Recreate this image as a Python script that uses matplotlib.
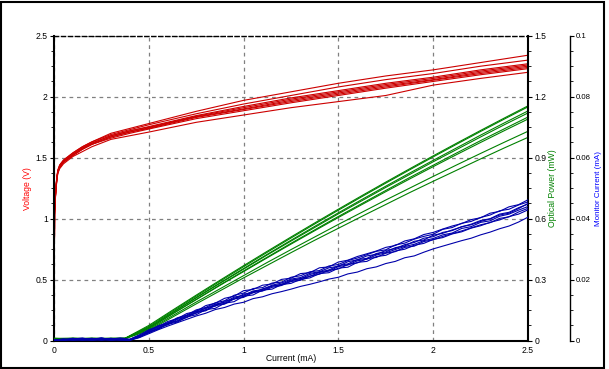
import matplotlib
matplotlib.use('Agg')
import matplotlib.pyplot as plt
from matplotlib.patches import Rectangle
from matplotlib.ticker import MultipleLocator, FuncFormatter

plt.rcParams['font.family'] = ['Liberation Sans', 'DejaVu Sans']
plt.rcParams['font.size'] = 6.2

# ---- voltage (V) vs current (mA) ----
x_volt = [0, 0.003, 0.006, 0.01, 0.015, 0.02, 0.03, 0.05, 0.075, 0.1, 0.15, 0.2,
          0.3, 0.4, 0.5, 0.75, 1.0, 1.25, 1.5, 1.75, 2.0, 2.25, 2.5]
volt_curves = [
    [0, 1.05, 1.16, 1.26, 1.34, 1.40, 1.44, 1.48, 1.51, 1.54, 1.59, 1.63, 1.70, 1.74, 1.78, 1.88, 1.97, 2.04, 2.11, 2.17, 2.22, 2.28, 2.34],
    [0, 1.05, 1.15, 1.25, 1.34, 1.39, 1.44, 1.48, 1.51, 1.54, 1.59, 1.63, 1.69, 1.73, 1.77, 1.86, 1.94, 2.01, 2.08, 2.14, 2.19, 2.25, 2.30],
    [0, 1.04, 1.15, 1.25, 1.33, 1.39, 1.43, 1.47, 1.50, 1.53, 1.58, 1.62, 1.68, 1.72, 1.755, 1.845, 1.92, 1.99, 2.05, 2.11, 2.16, 2.22, 2.27],
    [0, 1.06, 1.14, 1.24, 1.33, 1.38, 1.43, 1.47, 1.50, 1.53, 1.58, 1.62, 1.68, 1.72, 1.75, 1.84, 1.91, 1.98, 2.04, 2.10, 2.15, 2.21, 2.26],
    [0, 1.03, 1.14, 1.24, 1.32, 1.38, 1.42, 1.46, 1.50, 1.52, 1.57, 1.61, 1.67, 1.71, 1.745, 1.835, 1.90, 1.97, 2.03, 2.09, 2.14, 2.20, 2.25],
    [0, 1.05, 1.15, 1.25, 1.33, 1.39, 1.43, 1.47, 1.49, 1.52, 1.57, 1.61, 1.67, 1.71, 1.74, 1.83, 1.895, 1.96, 2.02, 2.08, 2.135, 2.19, 2.24],
    [0, 1.04, 1.14, 1.24, 1.32, 1.38, 1.42, 1.46, 1.49, 1.52, 1.57, 1.61, 1.66, 1.70, 1.735, 1.82, 1.885, 1.95, 2.01, 2.07, 2.125, 2.18, 2.23],
    [0, 1.03, 1.13, 1.23, 1.31, 1.37, 1.41, 1.45, 1.48, 1.51, 1.55, 1.59, 1.65, 1.68, 1.71, 1.79, 1.85, 1.91, 1.96, 2.01, 2.095, 2.15, 2.20],
]

# ---- optical power (mW) vs current (mA) ----
x_power = [0, 0.1, 0.2, 0.3, 0.375, 0.5, 0.625, 0.75, 0.875, 1.0, 1.125, 1.25, 1.375,
           1.5, 1.625, 1.75, 1.875, 2.0, 2.125, 2.25, 2.375, 2.5]
power_curves = [
    [0.010, 0.012, 0.009, 0.011, 0.012, 0.075, 0.150, 0.224, 0.297, 0.369, 0.440, 0.510, 0.579, 0.647, 0.714, 0.780, 0.845, 0.909, 0.972, 1.034, 1.095, 1.155],
    [0.011, 0.009, 0.012, 0.010, 0.011, 0.070, 0.145, 0.219, 0.292, 0.364, 0.435, 0.505, 0.574, 0.642, 0.709, 0.775, 0.840, 0.904, 0.967, 1.029, 1.090, 1.150],
    [0.009, 0.011, 0.010, 0.012, 0.012, 0.065, 0.139, 0.212, 0.284, 0.355, 0.425, 0.494, 0.562, 0.629, 0.695, 0.760, 0.824, 0.887, 0.949, 1.011, 1.071, 1.130],
    [0.010, 0.010, 0.011, 0.009, 0.011, 0.065, 0.138, 0.211, 0.282, 0.352, 0.422, 0.490, 0.557, 0.624, 0.689, 0.754, 0.817, 0.880, 0.941, 1.002, 1.062, 1.120],
    [0.012, 0.010, 0.009, 0.011, 0.010, 0.060, 0.132, 0.203, 0.274, 0.343, 0.411, 0.479, 0.545, 0.611, 0.675, 0.739, 0.802, 0.863, 0.924, 0.984, 1.042, 1.100],
    [0.010, 0.012, 0.010, 0.010, 0.012, 0.060, 0.132, 0.202, 0.272, 0.340, 0.408, 0.475, 0.541, 0.606, 0.670, 0.733, 0.795, 0.856, 0.916, 0.975, 1.033, 1.090],
    [0.011, 0.010, 0.012, 0.011, 0.011, 0.055, 0.123, 0.190, 0.255, 0.320, 0.385, 0.448, 0.510, 0.572, 0.632, 0.692, 0.750, 0.808, 0.865, 0.921, 0.976, 1.030],
    [0.009, 0.011, 0.010, 0.010, 0.010, 0.050, 0.116, 0.181, 0.245, 0.309, 0.371, 0.433, 0.494, 0.553, 0.612, 0.670, 0.728, 0.784, 0.839, 0.894, 0.948, 1.000],
]

# ---- monitor current (uA, shown in mA) vs current (mA) ----
x_monitor = [0, 0.05, 0.1, 0.15, 0.2, 0.25, 0.3, 0.35, 0.4, 0.45, 0.5, 0.55, 0.6, 0.65,
             0.7, 0.75, 0.8, 0.85, 0.9, 0.95, 1.0, 1.05, 1.1, 1.15, 1.2, 1.25, 1.3,
             1.35, 1.4, 1.45, 1.5, 1.55, 1.6, 1.65, 1.7, 1.75, 1.8, 1.85, 1.9, 1.95,
             2.0, 2.05, 2.1, 2.15, 2.2, 2.25, 2.3, 2.35, 2.4, 2.45, 2.5]
monitor_curves_ua = [
    [0.0, 0.3, 0.8, 0.2, 0.5, 0.9, 0.3, 0.6,
     0.5, 1.8, 3.6, 4.6, 6.3, 7.2, 8.9, 9.6, 11.5, 12.3, 13.9, 14.6, 16.4, 16.8, 18.2, 18.6, 20.1, 20.5, 22.0, 22.3,
     23.9, 24.2, 25.8, 26.4, 27.6, 28.5, 29.4, 30.6, 31.2, 32.7, 33.4, 34.8, 35.5, 36.6, 37.6, 38.4, 39.7, 40.3,
     41.8, 42.4, 43.9, 44.6, 46.2],
    [0.2, 0.1, 0.5, 0.9, 0.2, 0.4, 0.7, 0.2,
     0.2, 1.2, 3.3, 4.9, 5.8, 7.5, 8.4, 10.1, 10.9, 12.4, 13.1, 14.9, 15.6, 17.1, 17.4, 18.9, 19.2, 20.8, 21.3, 22.6,
     23.0, 24.5, 25.0, 26.3, 27.1, 28.2, 29.3, 29.8, 31.4, 32.0, 33.3, 34.2, 34.9, 36.5, 37.1, 38.5, 39.1, 40.4,
     41.2, 42.6, 43.1, 44.5, 45.5],
    [0.1, 0.6, 0.2, 0.4, 0.8, 0.1, 0.5, 0.9,
     0.4, 1.6, 2.7, 4.1, 5.9, 6.5, 8.3, 9.0, 10.8, 11.3, 13.0, 13.6, 15.3, 15.7, 17.0, 17.9, 18.5, 19.9, 20.3, 21.7,
     22.5, 23.2, 24.6, 25.2, 26.6, 27.0, 28.6, 29.1, 30.5, 31.1, 32.6, 33.0, 34.6, 35.2, 36.3, 37.3, 38.2, 39.4,
     40.0, 41.5, 42.1, 43.6, 44.8],
    [0.3, 0.2, 0.7, 0.3, 0.1, 0.6, 0.2, 0.4,
     0.3, 1.3, 2.8, 4.4, 5.2, 7.0, 7.7, 9.5, 10.0, 11.8, 12.2, 14.0, 14.5, 16.1, 16.4, 17.9, 18.3, 19.6, 20.4, 21.1,
     22.4, 22.8, 24.3, 24.8, 26.2, 26.7, 28.1, 28.8, 29.9, 30.9, 31.6, 32.8, 33.5, 34.7, 35.3, 36.8, 37.4, 38.8,
     39.3, 40.8, 41.5, 42.8, 44.0],
    [0.0, 0.4, 0.1, 0.6, 0.3, 0.2, 0.8, 0.3,
     0.2, 1.4, 2.6, 3.9, 5.4, 6.1, 7.8, 8.5, 10.2, 10.6, 12.3, 12.8, 14.6, 15.0, 16.6, 16.9, 18.4, 18.8, 20.1, 20.6,
     22.0, 22.3, 23.8, 24.1, 25.7, 26.0, 27.6, 28.0, 29.4, 30.0, 31.3, 31.9, 33.2, 33.8, 35.0, 35.7, 36.9, 37.7,
     38.8, 39.6, 40.7, 41.5, 42.9],
    [0.2, 0.5, 0.3, 0.1, 0.7, 0.4, 0.1, 0.3,
     0.1, 1.0, 2.3, 3.6, 4.8, 5.9, 7.0, 8.1, 9.0, 10.2, 10.9, 12.0, 12.6, 13.8, 14.4, 15.4, 16.1, 16.9, 17.8, 18.5,
     19.3, 20.2, 20.8, 21.9, 22.5, 23.6, 24.2, 25.3, 26.0, 27.2, 27.8, 29.0, 30.1, 31.0, 31.9, 32.8, 33.6, 34.7,
     35.6, 36.7, 37.6, 38.9, 40.5],
    [0.1, 0.2, 0.6, 0.4, 0.2, 0.9, 0.3, 0.5,
     0.3, 1.1, 2.9, 3.8, 5.6, 6.4, 7.6, 9.2, 9.8, 11.5, 12.0, 13.7, 14.2, 15.8, 16.3, 17.5, 18.1, 19.4, 19.8, 21.2,
     21.8, 23.1, 23.5, 25.0, 25.5, 26.9, 27.3, 28.7, 29.2, 30.6, 31.0, 32.5, 33.1, 34.2, 35.1, 36.0, 37.0, 38.0,
     38.7, 40.1, 40.6, 42.2, 43.4],
    [0.3, 0.1, 0.4, 0.7, 0.3, 0.5, 0.6, 0.2,
     0.4, 1.9, 3.1, 4.7, 5.7, 7.3, 8.1, 9.8, 10.5, 12.0, 12.6, 14.3, 14.9, 16.3, 16.8, 18.2, 18.9, 20.2, 20.7, 22.1,
     22.6, 23.9, 24.4, 25.9, 26.5, 27.8, 28.3, 29.6, 30.2, 31.5, 32.2, 33.6, 34.1, 35.5, 36.1, 37.4, 38.0, 39.1,
     39.9, 41.2, 41.8, 43.3, 45.0],
]

fig = plt.figure(figsize=(6.09, 3.69), dpi=100)
ax = fig.add_axes([54 / 609, 28.3 / 369, 474 / 609, 305 / 369])
ax2 = ax.twinx()
ax3 = ax.twinx()

for v in volt_curves:
    ax.plot(x_volt, v, color='#cc0000', lw=0.8)
for p in power_curves:
    ax2.plot(x_power, p, color='#008000', lw=0.8)
for m in monitor_curves_ua:
    ax3.plot(x_monitor, [val / 1000 for val in m], color='#0000aa', lw=0.8)

fmt = FuncFormatter(lambda v, pos: '%g' % round(v, 4))

ax.set_xlim(0, 2.5)
ax.set_ylim(0, 2.5)
ax.xaxis.set_major_locator(MultipleLocator(0.5))
ax.yaxis.set_major_locator(MultipleLocator(0.5))
ax.yaxis.set_minor_locator(MultipleLocator(0.125))
ax.xaxis.set_major_formatter(fmt)
ax.yaxis.set_major_formatter(fmt)
ax.grid(True, color='#808080', linestyle=(0, (3, 3)), lw=0.9)
ax.tick_params(axis='x', length=0, pad=4)
ax.tick_params(axis='y', which='major', length=3, pad=1.5)
ax.tick_params(axis='y', which='minor', length=2)
ax.set_xlabel('Current (mA)')
ax.xaxis.set_label_coords(0.5, -0.045)
ax.set_ylabel('Voltage (V)', color='#ff0000')
ax.yaxis.set_label_coords(-0.047, 0.5)

ax2.set_ylim(0, 1.5)
ax2.yaxis.set_major_locator(MultipleLocator(0.3))
ax2.yaxis.set_minor_locator(MultipleLocator(0.075))
ax2.yaxis.set_major_formatter(fmt)
ax2.tick_params(axis='y', which='major', length=3, pad=1.5)
ax2.tick_params(axis='y', which='minor', length=2)
ax2.set_ylabel('Optical Power (mW)', color='#008000')
ax2.yaxis.set_label_coords(1.043, 0.5)

ax3.set_ylim(0, 0.1)
ax3.spines['right'].set_position(('axes', (570 - 54) / 474))
ax3.yaxis.set_major_locator(MultipleLocator(0.02))
ax3.yaxis.set_minor_locator(MultipleLocator(0.005))
ax3.yaxis.set_major_formatter(fmt)
ax3.tick_params(axis='y', which='major', length=3, pad=1, labelsize=5.6)
ax3.tick_params(axis='y', which='minor', length=2)
ax3.set_ylabel('Monitor Current (mA)', color='#0000ff', fontsize=5.8)
ax3.yaxis.set_label_coords(1.141, 0.5)

for a in (ax, ax2, ax3):
    for s in ('top', 'left', 'bottom'):
        a.spines[s].set_visible(a is ax)
ax.spines['right'].set_visible(False)
ax2.spines['right'].set_linewidth(1.5)
ax3.spines['right'].set_linewidth(1.0)
ax.spines['left'].set_linewidth(1.5)
ax.spines['bottom'].set_linewidth(1.5)
ax.spines['top'].set_linestyle((0, (3, 2)))
ax.spines['top'].set_linewidth(1.0)

fig.patches.append(Rectangle((1 / 609, 1.5 / 369), 603 / 609, 366 / 369, fill=False,
                             edgecolor='black', lw=1.5, transform=fig.transFigure))

fig.savefig('out.png', dpi=100)
